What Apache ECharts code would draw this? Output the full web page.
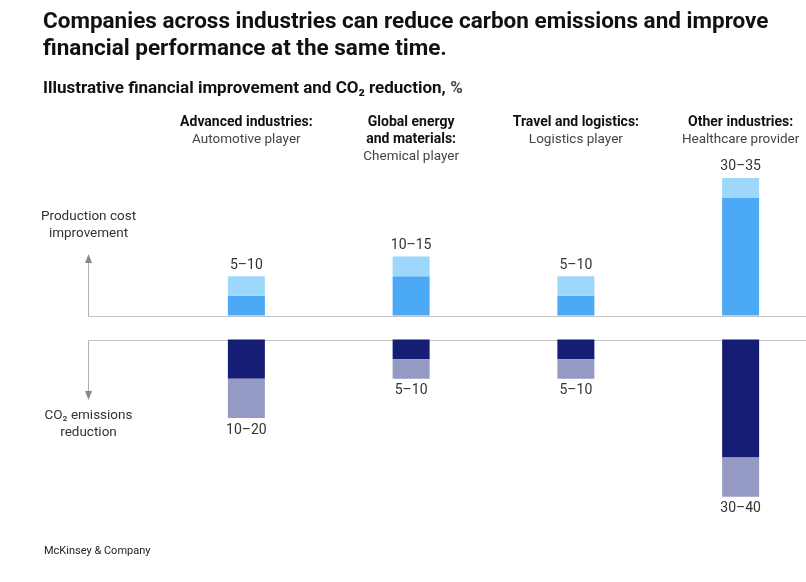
<!DOCTYPE html>
<html><head><meta charset="utf-8">
<script src="https://cdn.jsdelivr.net/npm/echarts@6/dist/echarts.min.js"></script>
<style>html,body{margin:0;padding:0;background:#fff}#c{width:806px;height:582px}</style>
</head><body><div id="c"></div>
<script>
var sectors = ['Advanced industries:', 'Global energy\nand materials:', 'Travel and logistics:', 'Other industries:'];
var players = ['Automotive player', 'Chemical player', 'Logistics player', 'Healthcare provider'];
var costLow = [5, 10, 5, 30];
var costHigh = [10, 15, 10, 35];
var co2Low = [10, 5, 5, 30];
var co2High = [20, 10, 10, 40];

var FONT = 'Roboto';
var chart = echarts.init(document.getElementById('c'));
var cats = sectors.map(function(s, i){ return s + '|' + players[i]; });
function diff(a, b){ return a.map(function(v, i){ return b[i] - v; }); }

var option = {
  animation: false,
  textStyle: {fontFamily: FONT},
  title: [{
    text: 'Companies across industries can reduce carbon emissions and improve\nfinancial performance at the same time.',
    left: 38, top: 4,
    textStyle: {fontFamily: FONT, fontSize: 22.5, fontWeight: 'bold', color: '#111', lineHeight: 27}
  }, {
    text: '{b|Illustrative financial improvement and CO₂ reduction,} {n|%}',
    left: 38, top: 75,
    textStyle: {rich: {
      b: {fontFamily: FONT, fontSize: 17, fontWeight: 'bold', color: '#111'},
      n: {fontFamily: FONT, fontSize: 17, color: '#444'}
    }}
  }, {
    text: 'McKinsey & Company',
    left: 39, top: 541,
    textStyle: {fontFamily: FONT, fontSize: 11, fontWeight: 'normal', color: '#222'}
  }],
  grid: [
    {left: 164, width: 659, top: 158.3, height: 157.2, outerBoundsMode: 'none', containLabel: false},
    {left: 164, width: 659, top: 339.5, height: 157.2, outerBoundsMode: 'none', containLabel: false}
  ],
  xAxis: [{
    gridIndex: 0, type: 'category', data: cats, position: 'top', offset: 45,
    axisLine: {show: false}, axisTick: {show: false},
    axisLabel: {
      margin: 0, verticalAlign: 'top', interval: 0, hideOverlap: false,
      formatter: function(v){
        var p = v.split('|');
        return p[0].split('\n').map(function(s){ return '{b|' + s + '}'; }).join('\n') + '\n{n|' + p[1] + '}';
      },
      rich: {
        b: {fontFamily: FONT, fontSize: 14, fontWeight: 'bold', color: '#111', lineHeight: 17.5},
        n: {fontFamily: FONT, fontSize: 13.5, color: '#444', lineHeight: 17.5}
      }
    }
  }, {
    gridIndex: 1, type: 'category', data: cats,
    axisLine: {show: false}, axisTick: {show: false}, axisLabel: {show: false}
  }],
  yAxis: [
    {gridIndex: 0, type: 'value', min: 0, max: 40, show: false},
    {gridIndex: 1, type: 'value', min: 0, max: 40, inverse: true, show: false}
  ],
  series: [
    {type: 'bar', xAxisIndex: 0, yAxisIndex: 0, stack: 'up', barWidth: 37, data: costLow,
     itemStyle: {color: '#4CA9F5'}},
    {type: 'bar', xAxisIndex: 0, yAxisIndex: 0, stack: 'up', barWidth: 37, data: diff(costLow, costHigh),
     itemStyle: {color: '#9DD8FC'},
     label: {show: true, position: 'top', distance: 4, fontFamily: FONT, fontSize: 14, color: '#333',
       formatter: function(p){ return costLow[p.dataIndex] + '–' + costHigh[p.dataIndex]; }}},
    {type: 'bar', xAxisIndex: 1, yAxisIndex: 1, stack: 'down', barWidth: 37, data: co2Low,
     itemStyle: {color: '#161D75'}},
    {type: 'bar', xAxisIndex: 1, yAxisIndex: 1, stack: 'down', barWidth: 37, data: diff(co2Low, co2High),
     itemStyle: {color: '#949AC4'},
     label: {show: true, position: 'bottom', distance: 5, fontFamily: FONT, fontSize: 14, color: '#333',
       formatter: function(p){ return co2Low[p.dataIndex] + '–' + co2High[p.dataIndex]; }}}
  ]
};
chart.setOption(option);

var yUp = Math.round(chart.convertToPixel({yAxisIndex: 0}, 0)) + 0.5;
var yDn = Math.round(chart.convertToPixel({yAxisIndex: 1}, 0)) + 0.5;
var ax = 88.5;
chart.setOption({graphic: [
  {type: 'line', shape: {x1: ax, y1: yUp, x2: 806, y2: yUp}, style: {stroke: '#c4c4c4', lineWidth: 1}, z: 0},
  {type: 'line', shape: {x1: ax, y1: yUp, x2: ax, y2: 262}, style: {stroke: '#b0b0b0', lineWidth: 1}},
  {type: 'polygon', shape: {points: [[ax - 3.5, 263], [ax + 3.5, 263], [ax, 254]]}, style: {fill: '#888'}},
  {type: 'line', shape: {x1: ax, y1: yDn, x2: 806, y2: yDn}, style: {stroke: '#c4c4c4', lineWidth: 1}, z: 0},
  {type: 'line', shape: {x1: ax, y1: yDn, x2: ax, y2: 392}, style: {stroke: '#b0b0b0', lineWidth: 1}},
  {type: 'polygon', shape: {points: [[ax - 3.5, 391], [ax + 3.5, 391], [ax, 400]]}, style: {fill: '#888'}},
  {type: 'text', x: ax, y: 225, style: {text: 'Production cost\nimprovement', fontFamily: FONT, fontSize: 13.5, lineHeight: 17.5,
    fill: '#333', align: 'center', verticalAlign: 'middle'}},
  {type: 'text', x: ax, y: 424, style: {text: 'CO₂ emissions\nreduction', fontFamily: FONT, fontSize: 13.5, lineHeight: 17.5,
    fill: '#333', align: 'center', verticalAlign: 'middle'}}
]});
</script></body></html>
